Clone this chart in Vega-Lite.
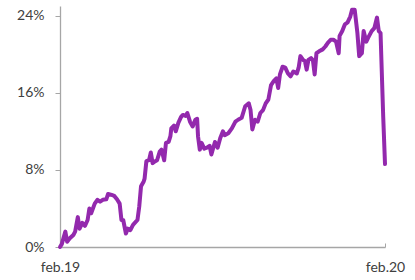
{
  "$schema": "https://vega.github.io/schema/vega-lite/v6.json",
  "width": 325,
  "height": 241,
  "autosize": {"type": "none"},
  "padding": {"left": 60, "top": 6, "right": 30, "bottom": 33},
  "background": "white",
  "config": {"view": {"stroke": null}},
  "data": {
    "values": [
      {"date": "2019-02-01", "v": 0.0},
      {"date": "2019-02-03", "v": 0.3},
      {"date": "2019-02-07", "v": 1.6},
      {"date": "2019-02-09", "v": 0.55},
      {"date": "2019-02-12", "v": 0.9},
      {"date": "2019-02-16", "v": 1.25},
      {"date": "2019-02-18", "v": 1.6},
      {"date": "2019-02-21", "v": 3.1},
      {"date": "2019-02-23", "v": 1.9},
      {"date": "2019-02-26", "v": 2.5},
      {"date": "2019-03-01", "v": 2.2},
      {"date": "2019-03-04", "v": 2.8},
      {"date": "2019-03-06", "v": 4.0},
      {"date": "2019-03-08", "v": 3.5},
      {"date": "2019-03-12", "v": 4.5},
      {"date": "2019-03-15", "v": 4.9},
      {"date": "2019-03-18", "v": 4.7},
      {"date": "2019-03-21", "v": 4.9},
      {"date": "2019-03-25", "v": 4.95},
      {"date": "2019-03-27", "v": 5.5},
      {"date": "2019-03-31", "v": 5.4},
      {"date": "2019-04-03", "v": 5.3},
      {"date": "2019-04-06", "v": 4.95},
      {"date": "2019-04-09", "v": 4.5},
      {"date": "2019-04-11", "v": 2.8},
      {"date": "2019-04-13", "v": 2.8},
      {"date": "2019-04-16", "v": 1.4},
      {"date": "2019-04-18", "v": 1.9},
      {"date": "2019-04-21", "v": 1.75},
      {"date": "2019-04-24", "v": 2.3},
      {"date": "2019-04-27", "v": 2.6},
      {"date": "2019-04-29", "v": 2.8},
      {"date": "2019-05-01", "v": 4.2},
      {"date": "2019-05-03", "v": 6.3},
      {"date": "2019-05-06", "v": 6.8},
      {"date": "2019-05-07", "v": 7.1},
      {"date": "2019-05-09", "v": 8.9},
      {"date": "2019-05-12", "v": 9.0},
      {"date": "2019-05-14", "v": 9.8},
      {"date": "2019-05-16", "v": 8.7},
      {"date": "2019-05-19", "v": 8.9},
      {"date": "2019-05-21", "v": 9.0},
      {"date": "2019-05-24", "v": 9.9},
      {"date": "2019-05-26", "v": 10.1},
      {"date": "2019-05-29", "v": 9.0},
      {"date": "2019-05-31", "v": 10.8},
      {"date": "2019-06-03", "v": 10.9},
      {"date": "2019-06-05", "v": 11.5},
      {"date": "2019-06-06", "v": 12.3},
      {"date": "2019-06-09", "v": 12.6},
      {"date": "2019-06-11", "v": 12.0},
      {"date": "2019-06-14", "v": 12.9},
      {"date": "2019-06-17", "v": 13.5},
      {"date": "2019-06-19", "v": 13.7},
      {"date": "2019-06-22", "v": 13.6},
      {"date": "2019-06-24", "v": 13.9},
      {"date": "2019-06-27", "v": 13.0},
      {"date": "2019-06-30", "v": 12.5},
      {"date": "2019-07-03", "v": 13.2},
      {"date": "2019-07-05", "v": 13.3},
      {"date": "2019-07-06", "v": 11.5},
      {"date": "2019-07-08", "v": 10.1},
      {"date": "2019-07-10", "v": 10.8},
      {"date": "2019-07-13", "v": 10.2},
      {"date": "2019-07-16", "v": 10.3},
      {"date": "2019-07-19", "v": 10.5},
      {"date": "2019-07-21", "v": 9.6},
      {"date": "2019-07-25", "v": 10.9},
      {"date": "2019-07-28", "v": 10.3},
      {"date": "2019-07-31", "v": 11.3},
      {"date": "2019-08-03", "v": 12.0},
      {"date": "2019-08-05", "v": 11.6},
      {"date": "2019-08-09", "v": 11.8},
      {"date": "2019-08-13", "v": 12.3},
      {"date": "2019-08-17", "v": 13.0},
      {"date": "2019-08-20", "v": 13.2},
      {"date": "2019-08-24", "v": 13.4},
      {"date": "2019-08-28", "v": 14.6},
      {"date": "2019-09-01", "v": 14.9},
      {"date": "2019-09-03", "v": 14.2},
      {"date": "2019-09-05", "v": 12.2},
      {"date": "2019-09-08", "v": 13.2},
      {"date": "2019-09-11", "v": 13.0},
      {"date": "2019-09-14", "v": 13.9},
      {"date": "2019-09-17", "v": 14.2},
      {"date": "2019-09-20", "v": 14.9},
      {"date": "2019-09-23", "v": 15.3},
      {"date": "2019-09-26", "v": 16.8},
      {"date": "2019-09-29", "v": 17.2},
      {"date": "2019-10-02", "v": 17.5},
      {"date": "2019-10-04", "v": 16.5},
      {"date": "2019-10-06", "v": 17.9},
      {"date": "2019-10-09", "v": 18.7},
      {"date": "2019-10-12", "v": 18.6},
      {"date": "2019-10-15", "v": 18.0},
      {"date": "2019-10-18", "v": 17.7},
      {"date": "2019-10-21", "v": 18.2},
      {"date": "2019-10-25", "v": 18.0},
      {"date": "2019-10-27", "v": 18.6},
      {"date": "2019-10-29", "v": 19.8},
      {"date": "2019-11-01", "v": 19.4},
      {"date": "2019-11-03", "v": 19.3},
      {"date": "2019-11-05", "v": 18.4},
      {"date": "2019-11-07", "v": 19.4},
      {"date": "2019-11-10", "v": 19.6},
      {"date": "2019-11-12", "v": 19.4},
      {"date": "2019-11-14", "v": 17.9},
      {"date": "2019-11-16", "v": 20.1},
      {"date": "2019-11-19", "v": 20.3},
      {"date": "2019-11-23", "v": 20.5},
      {"date": "2019-11-26", "v": 20.8},
      {"date": "2019-11-29", "v": 21.2},
      {"date": "2019-12-02", "v": 21.5},
      {"date": "2019-12-05", "v": 21.5},
      {"date": "2019-12-08", "v": 21.3},
      {"date": "2019-12-11", "v": 20.1},
      {"date": "2019-12-12", "v": 21.9},
      {"date": "2019-12-15", "v": 22.4},
      {"date": "2019-12-18", "v": 23.1},
      {"date": "2019-12-21", "v": 23.3},
      {"date": "2019-12-24", "v": 23.9},
      {"date": "2019-12-26", "v": 24.6},
      {"date": "2019-12-29", "v": 24.6},
      {"date": "2020-01-01", "v": 22.2},
      {"date": "2020-01-03", "v": 19.8},
      {"date": "2020-01-06", "v": 20.1},
      {"date": "2020-01-08", "v": 22.4},
      {"date": "2020-01-11", "v": 21.3},
      {"date": "2020-01-13", "v": 21.7},
      {"date": "2020-01-17", "v": 22.4},
      {"date": "2020-01-20", "v": 22.7},
      {"date": "2020-01-23", "v": 23.8},
      {"date": "2020-01-25", "v": 22.4},
      {"date": "2020-01-27", "v": 22.2},
      {"date": "2020-01-30", "v": 13.5},
      {"date": "2020-02-01", "v": 8.6}
    ]
  },
  "mark": {"type": "line", "color": "#9329AD", "strokeWidth": 4, "strokeJoin": "round", "strokeCap": "round", "clip": false},
  "encoding": {
    "x": {
      "field": "date",
      "type": "temporal",
      "scale": {"domain": ["2019-02-01", "2020-02-01"], "nice": false},
      "axis": {
        "title": null,
        "grid": false,
        "values": ["2019-02-01", "2020-02-01"],
        "labelExpr": "lower(timeFormat(datum.value, '%b.%y'))",
        "labelFont": "Lato",
        "labelFontSize": 14,
        "labelColor": "#404040",
        "labelPadding": 17,
        "labelFlush": false,
        "ticks": true,
        "tickSize": -4,
        "tickColor": "#A6A6A6",
        "domainColor": "#A6A6A6",
        "domainWidth": 1.3
      }
    },
    "y": {
      "field": "v",
      "type": "quantitative",
      "scale": {"domain": [0, 25], "nice": false},
      "axis": {
        "title": null,
        "grid": false,
        "values": [0, 8, 16, 24],
        "labelExpr": "datum.value + '%'",
        "labelFont": "Lato",
        "labelFontSize": 14,
        "labelColor": "#404040",
        "labelPadding": 11,
        "tickSize": 5,
        "tickColor": "#A6A6A6",
        "domainColor": "#A6A6A6",
        "domainWidth": 1.3
      }
    }
  }
}
